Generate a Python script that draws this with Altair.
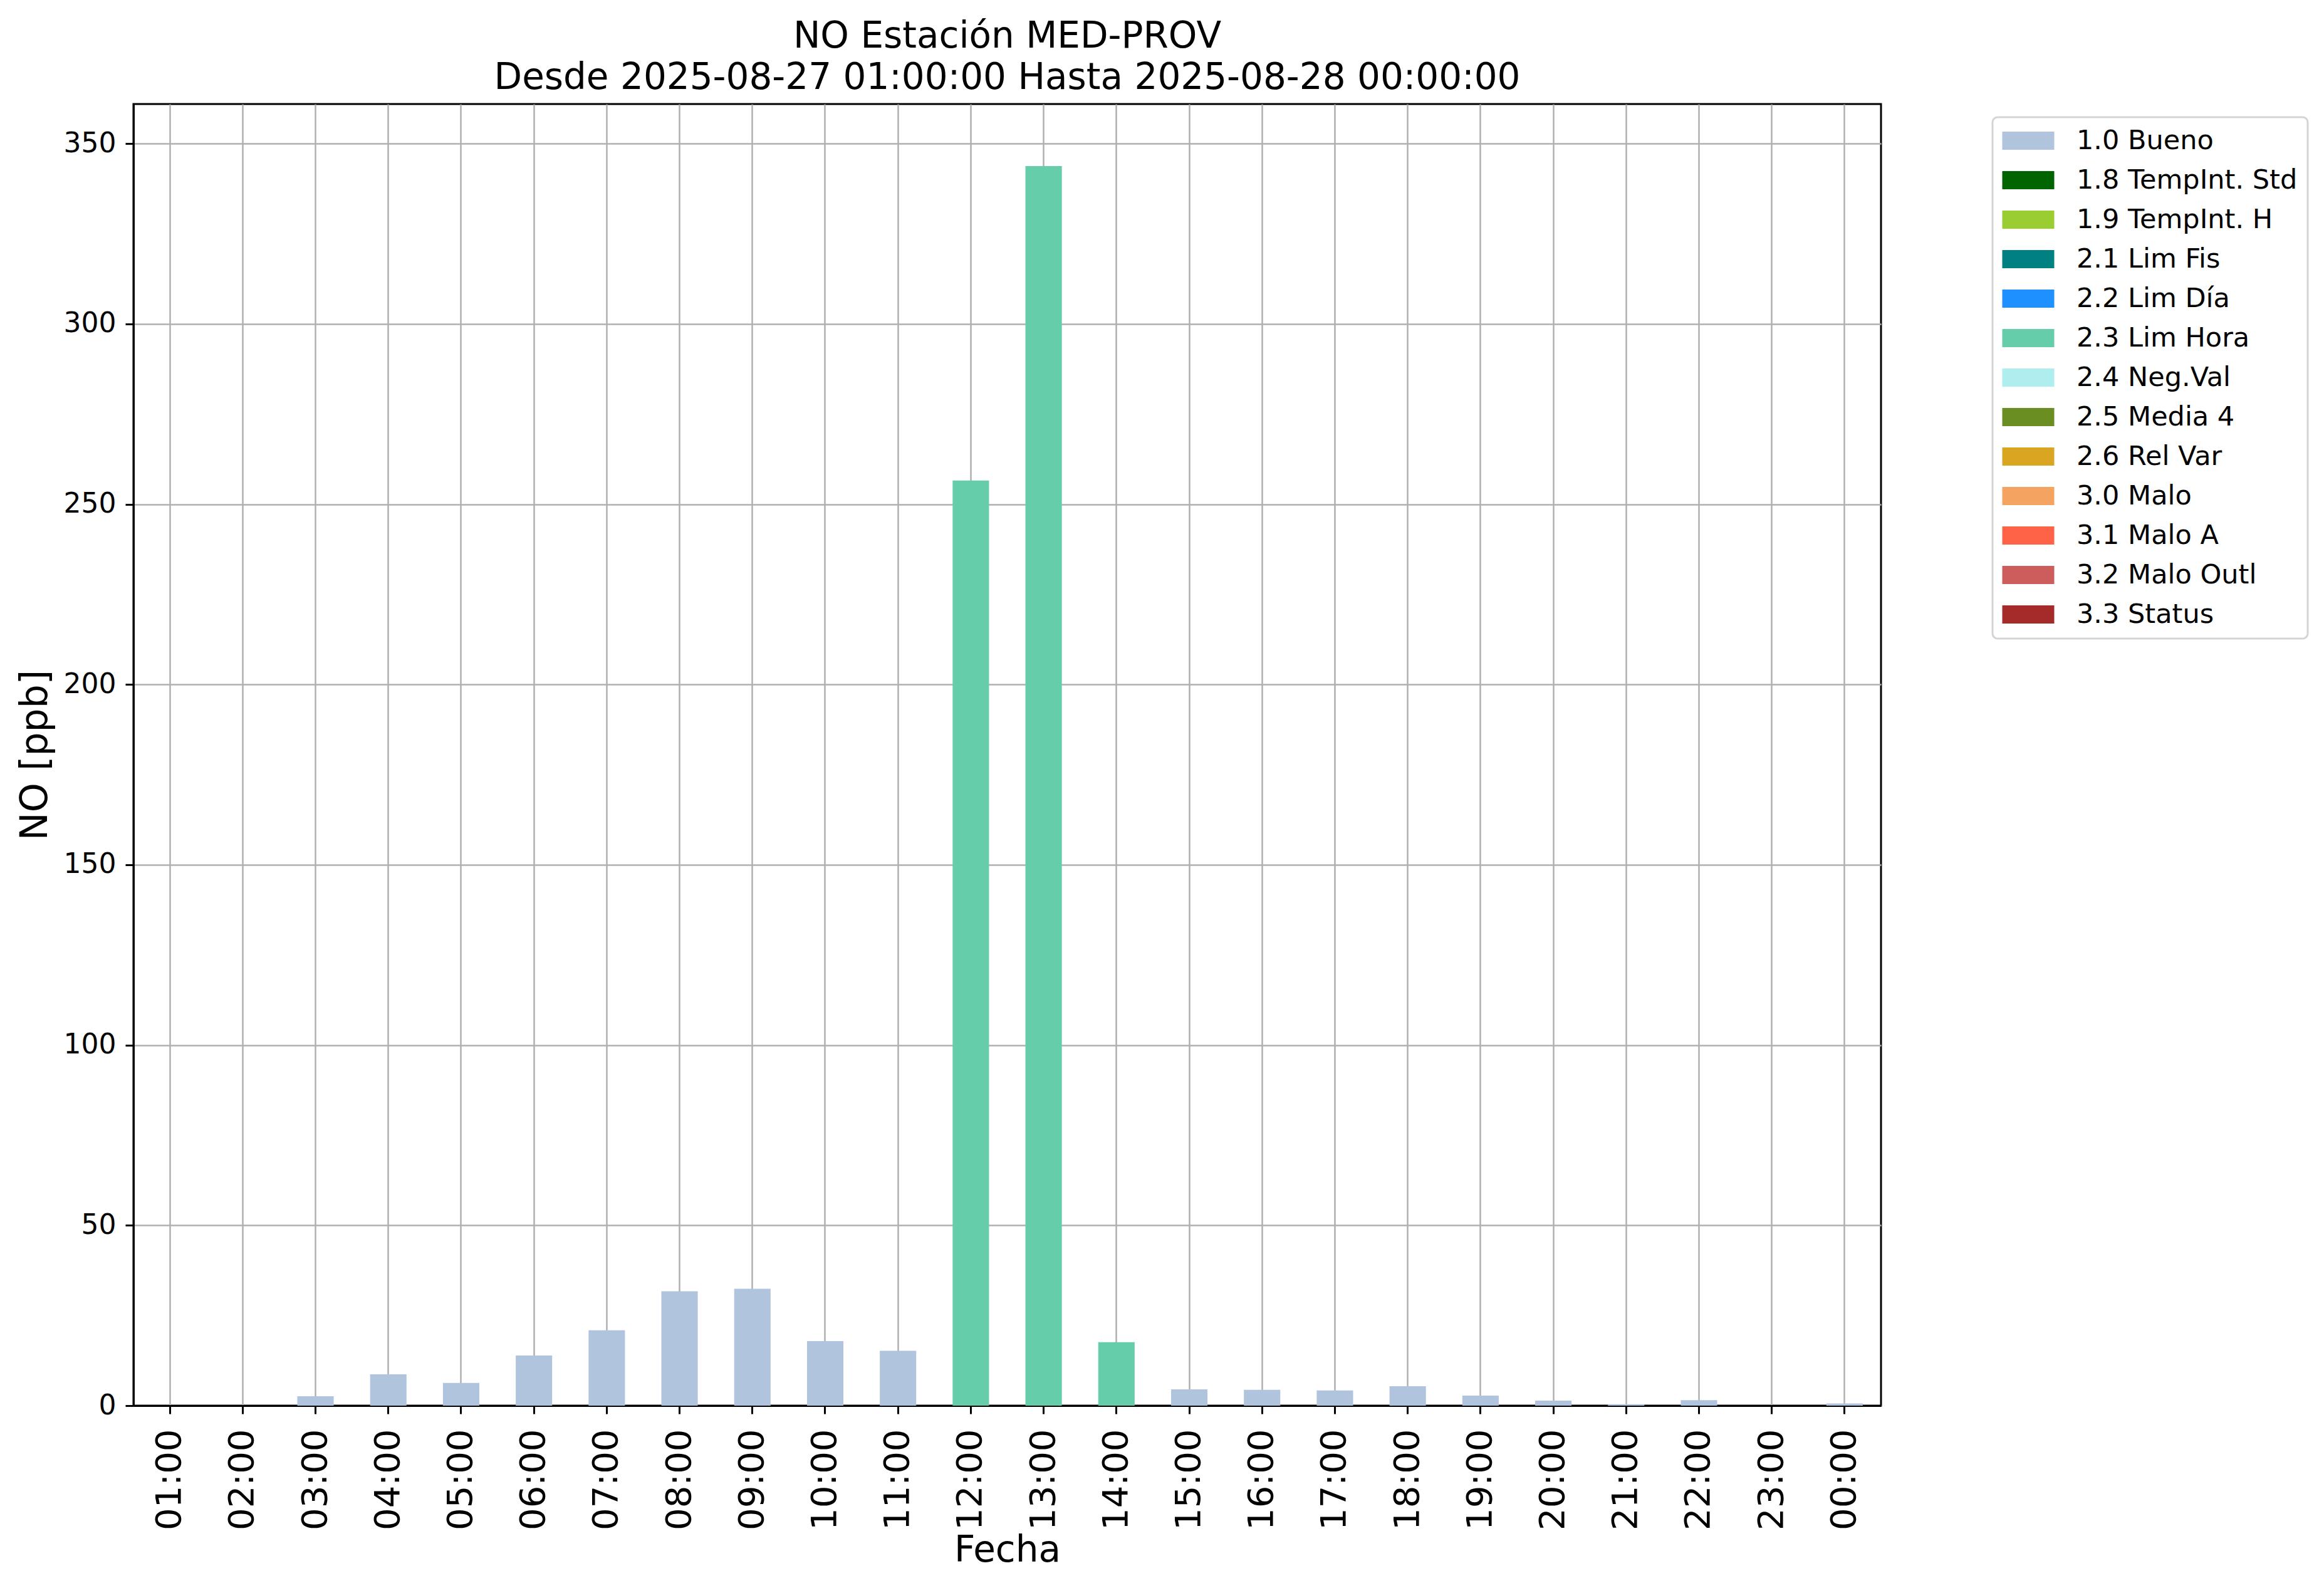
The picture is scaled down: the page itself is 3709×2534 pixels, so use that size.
import altair as alt
import pandas as pd

horas = ["01:00", "02:00", "03:00", "04:00", "05:00", "06:00", "07:00", "08:00",
         "09:00", "10:00", "11:00", "12:00", "13:00", "14:00", "15:00", "16:00",
         "17:00", "18:00", "19:00", "20:00", "21:00", "22:00", "23:00", "00:00"]
valores = [0.0, 0.0, 2.6, 8.7, 6.3, 13.9, 20.9, 31.7,
           32.4, 17.9, 15.2, 256.6, 343.8, 17.6, 4.5, 4.4,
           4.2, 5.4, 2.8, 1.4, 0.4, 1.5, 0.0, 0.6]
flags = ["1.0 Bueno"] * 11 + ["2.3 Lim Hora"] * 3 + ["1.0 Bueno"] * 10

categorias = ["1.0 Bueno", "1.8 TempInt. Std", "1.9 TempInt. H", "2.1 Lim Fis",
              "2.2 Lim Día", "2.3 Lim Hora", "2.4 Neg.Val", "2.5 Media 4",
              "2.6 Rel Var", "3.0 Malo", "3.1 Malo A", "3.2 Malo Outl", "3.3 Status"]
colores = ["#B0C4DE", "#006400", "#9ACD32", "#008080", "#1E90FF", "#66CDAA",
           "#AFEEEE", "#6B8E23", "#DAA520", "#F4A460", "#FF6347", "#CD5C5C", "#A52A2A"]

titulo = ["NO Estación MED-PROV", "Desde 2025-08-27 01:00:00 Hasta 2025-08-28 00:00:00"]
yticks = [0, 50, 100, 150, 200, 250, 300, 350]

df = pd.DataFrame({"Hora": horas, "NO": valores, "Flag": flags})

FONT = "DejaVu Sans"
sym_path = "M-1.1,-0.725L3.05,-0.725L3.05,0.725L-1.1,0.725Z"

chart = alt.Chart(df).mark_bar().encode(
    x=alt.X("Hora:N", sort=horas,
            scale=alt.Scale(paddingInner=0.5, paddingOuter=0.25),
            axis=alt.Axis(title="Fecha", labelAngle=270, labelFontSize=56,
                          labelPadding=24, titleFontSize=58,
                          titleY=248, titleBaseline="alphabetic")),
    y=alt.Y("NO:Q", scale=alt.Scale(domain=[0, 361], nice=False, zero=True),
            axis=alt.Axis(title="NO [ppb]", values=yticks, labelFontSize=44,
                          labelPadding=15, titleFontSize=60,
                          titleX=-139, titleBaseline="alphabetic")),
    color=alt.Color("Flag:N",
                    scale=alt.Scale(domain=categorias, range=colores),
                    legend=alt.Legend(title=None, orient="none", legendX=2967, legendY=21,
                                      symbolType=sym_path, symbolSize=1600,
                                      symbolStrokeWidth=0, symbolOpacity=1,
                                      labelFontSize=43, labelFont=FONT, labelColor="black",
                                      labelOffset=75, labelLimit=1000,
                                      rowPadding=19, padding=16,
                                      strokeColor="#d5d5d5", fillColor="white",
                                      cornerRadius=8))
).properties(
    width=2789,
    height=2077,
    title=alt.Title(titulo, anchor="middle", frame="group", fontSize=58,
                    lineHeight=66, font=FONT, fontWeight="normal", color="black",
                    offset=12),
    autosize=alt.AutoSizeParams(type="none"),
    padding={"left": 205, "top": 158, "right": 690, "bottom": 270},
).configure_axis(
    labelFont=FONT, titleFont=FONT, labelColor="black", titleColor="black",
    titleFontWeight="normal",
    domainColor="black", domainWidth=3, tickColor="black", tickWidth=3, tickSize=13,
    gridColor="#b0b0b0", gridWidth=2.5, grid=True,
).configure_view(
    stroke="black", strokeWidth=3
).configure_legend(
    strokeWidth=3
)

chart.save("out.html", embed_options={"renderer": "svg", "actions": False})
